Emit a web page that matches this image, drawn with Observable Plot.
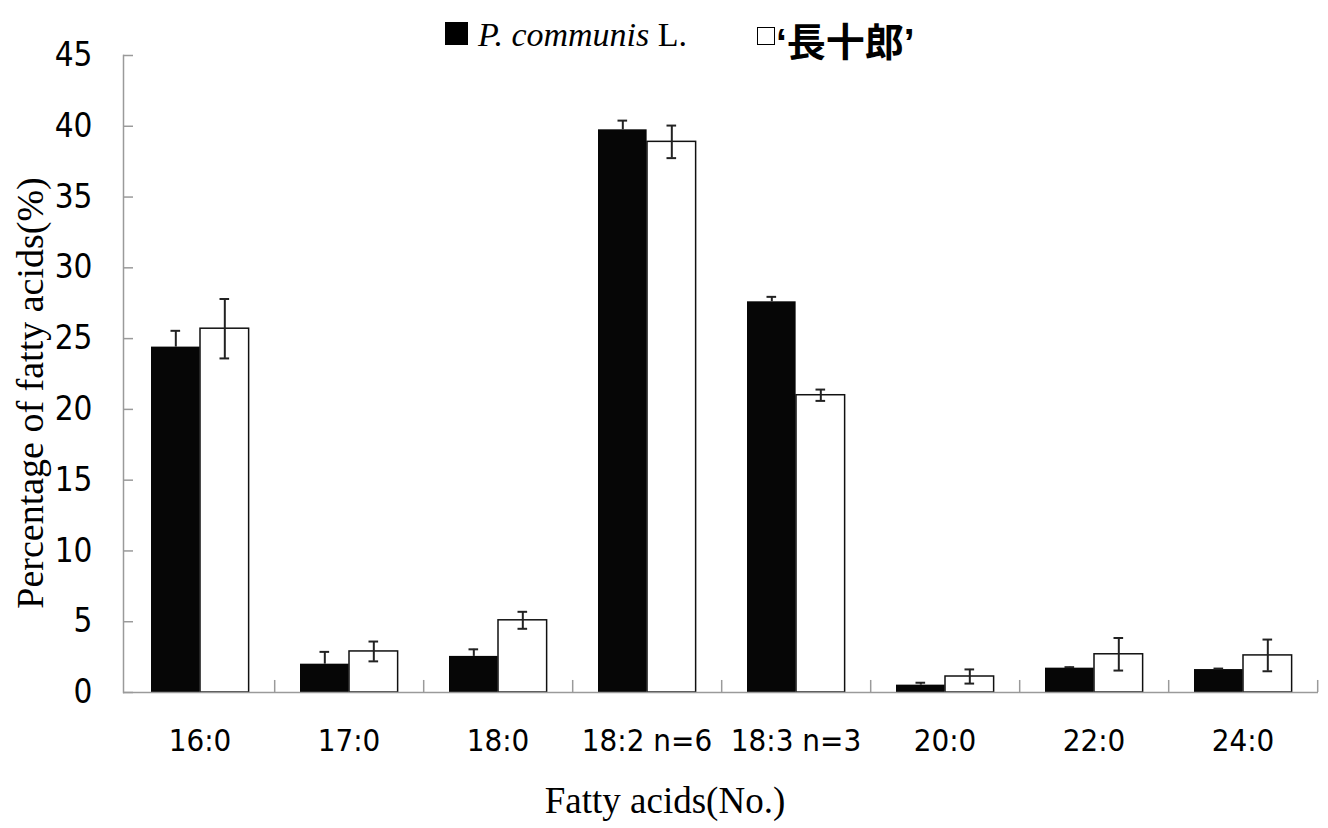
<!DOCTYPE html>
<html>
<head>
<meta charset="utf-8">
<script src="https://cdn.jsdelivr.net/npm/d3@7"></script>
<script src="https://cdn.jsdelivr.net/npm/@observablehq/plot@0.6"></script>
<style>
  body { margin: 0; background: #fff; }
  #wrap { position: relative; width: 1328px; height: 828px; overflow: hidden; }
  #legend .sw { position: absolute; box-sizing: border-box; }
  #legend .t { position: absolute; white-space: nowrap; line-height: 1; color: #000; }
</style>
</head>
<body>
<div id="wrap">
  <div id="chart"></div>
  <div id="legend"></div>
</div>
<script>
// ---- data ----
const categories = ["16:0", "17:0", "18:0", "18:2 n=6", "18:3 n=3", "20:0", "22:0", "24:0"];
const series = ["P. communis L.", "‘長十郎’"];
const communisMean = [24.4, 2.0, 2.55, 39.75, 27.6, 0.52, 1.72, 1.62];
const communisErr  = [1.15, 0.87, 0.5, 0.65, 0.35, 0.17, 0.07, 0.07];
const choujurouMean = [25.7, 2.9, 5.1, 38.9, 21.0, 1.13, 2.7, 2.62];
const choujurouErr  = [2.1, 0.7, 0.6, 1.15, 0.4, 0.5, 1.15, 1.12];
const yTicks = [0, 5, 10, 15, 20, 25, 30, 35, 40, 45];
const yTitle = "Percentage of fatty acids(%)";
const xTitle = "Fatty acids(No.)";

const rowsA = categories.map((c, i) => ({cat: c, value: communisMean[i], lo: communisMean[i] - communisErr[i], hi: communisMean[i] + communisErr[i]}));
const rowsB = categories.map((c, i) => ({cat: c, value: choujurouMean[i], lo: choujurouMean[i] - choujurouErr[i], hi: choujurouMean[i] + choujurouErr[i]}));

// ---- layout ----
const W = 1328, H = 828, mL = 123, mR = 10, mT = 55, mB = 136;
const bw = (W - mL - mR) / categories.length;
const gap = 26, barW = 49, cap = 10;
const cA = gap + barW / 2, cB = gap + 1.5 * barW;
const narrow = "'Liberation Sans Narrow', 'DejaVu Sans Condensed', 'Liberation Sans', sans-serif";
const serif = "'Liberation Serif', 'DejaVu Serif', serif";
const axisGray = "#9a9a9a";

const chart = Plot.plot({
  width: W, height: H,
  marginLeft: mL, marginRight: mR, marginTop: mT, marginBottom: mB,
  style: {background: "#fff", color: "#000", overflow: "visible"},
  x: {domain: categories, padding: 0, axis: null},
  y: {domain: [0, 45], axis: null},
  marks: [
    Plot.barY(rowsA, {x: "cat", y: "value", fill: "#060606", insetLeft: gap, insetRight: bw - gap - barW}),
    Plot.barY(rowsB, {x: "cat", y: "value", fill: "#fff", stroke: "#111", strokeWidth: 1.5, insetLeft: gap + barW, insetRight: bw - gap - 2 * barW}),
    // error bars
    Plot.ruleX(rowsA, {x: "cat", y1: "value", y2: "hi", dx: cA - bw / 2, stroke: "#222", strokeWidth: 2}),
    Plot.tickY(rowsA, {x: "cat", y: "hi", insetLeft: cA - cap / 2, insetRight: bw - cA - cap / 2, stroke: "#222", strokeWidth: 2}),
    Plot.ruleX(rowsB, {x: "cat", y1: "lo", y2: "hi", dx: cB - bw / 2, stroke: "#222", strokeWidth: 2}),
    Plot.tickY(rowsB, {x: "cat", y: "hi", insetLeft: cB - cap / 2, insetRight: bw - cB - cap / 2, stroke: "#222", strokeWidth: 2}),
    Plot.tickY(rowsB, {x: "cat", y: "lo", insetLeft: cB - cap / 2, insetRight: bw - cB - cap / 2, stroke: "#222", strokeWidth: 2}),
    // axes lines
    Plot.frame({anchor: "left", stroke: axisGray, strokeWidth: 1.5}),
    Plot.ruleY([0], {stroke: axisGray, strokeWidth: 1.5}),
    // x boundary ticks
    Plot.ruleX(categories, {x: d => d, y1: 0, y2: 0.85, dx: bw / 2, stroke: axisGray, strokeWidth: 1.5}),
    // y ticks (pointing inward)
    Plot.axisY({ticks: yTicks, tickSize: 10, dx: 10, tickFormat: () => "", label: null, stroke: axisGray, strokeWidth: 1.5}),
    Plot.axisY({ticks: yTicks, tickSize: 0, tickPadding: 31, label: null, fontSize: 33, fontFamily: narrow, fill: "#000"}),
    // x tick labels
    Plot.axisX({tickSize: 0, tickPadding: 36, label: null, fontSize: 31, fontFamily: narrow, fill: "#000"}),
    // titles
    Plot.text([yTitle], {frameAnchor: "left", textAnchor: "middle", rotate: -90, dx: -93, dy: 19, fontSize: 38, fontFamily: serif, fill: "#000", text: d => d}),
    Plot.text([xTitle], {frameAnchor: "bottom", dx: -56, dy: 120, lineAnchor: "bottom", fontSize: 37, fontFamily: serif, fill: "#000", text: d => d})
  ]
});
document.getElementById("chart").appendChild(chart);

// ---- legend ----
const lg = document.getElementById("legend");
const nameA = series[0].replace("P. communis", "<i>P. communis</i>");
lg.innerHTML = `
  <div class="sw" style="left:445px;top:22px;width:23px;height:23px;background:#000;"></div>
  <div class="t" style="left:478px;top:16px;font:34px ${serif};">${nameA}</div>
  <div class="sw" style="left:757px;top:27px;width:18px;height:18px;border:1.5px solid #000;background:#fff;"></div>
  <div class="t" style="left:776px;top:11px;font:bold 39px 'Liberation Sans','Noto Sans CJK JP',sans-serif;">${series[1]}</div>
`;
</script>
</body>
</html>
